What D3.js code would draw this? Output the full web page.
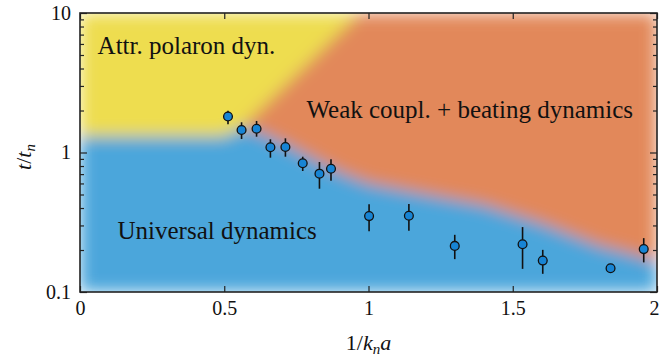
<!DOCTYPE html>
<html>
<head>
<meta charset="utf-8">
<script src="https://cdn.jsdelivr.net/npm/d3@7"></script>
<style>
  body { margin: 0; background: #fff; }
  svg { display: block; }
  svg text { font-family: "Liberation Serif", "DejaVu Serif", serif !important; fill: #111; }
</style>
</head>
<body>
<svg id="chart" width="660" height="358"></svg>
<script>
// measured points: 1/(k_n a) vs t/t_n with error bars
const invKa  = [0.513, 0.560, 0.612, 0.660, 0.712, 0.772, 0.830, 0.870, 1.002, 1.140, 1.299, 1.534, 1.604, 1.839, 1.954];
const tRatio = [1.81, 1.45, 1.48, 1.09, 1.095, 0.837, 0.705, 0.765, 0.350, 0.352, 0.214, 0.220, 0.168, 0.148, 0.203];
const errLo  = [1.595, 1.25, 1.298, 0.918, 0.933, 0.737, 0.550, 0.627, 0.273, 0.275, 0.172, 0.1465, 0.135, 0.148, 0.163];
const errHi  = [1.995, 1.647, 1.683, 1.244, 1.264, 0.933, 0.855, 0.894, 0.425, 0.427, 0.257, 0.292, 0.2005, 0.148, 0.2433];

// phase regions (data coords), drawn over a blue base and blurred
const yellowRegion = [[0, 1.3], [0.5, 1.3], [0.56, 1.5], [0.97, 10], [0, 10]];
const orangeRegion = [[0.56, 1.5], [0.62, 1.4], [0.7, 1.18], [0.8, 0.92], [0.9, 0.72], [1.0, 0.6],
                      [1.2, 0.5], [1.4, 0.42], [1.6, 0.31], [1.8, 0.215], [1.9, 0.19], [2.0, 0.165],
                      [2.0, 10], [0.97, 10]];

const xTicks = [0, 0.5, 1, 1.5, 2];
const xTickLabels = ["0", "0.5", "1", "1.5", "2"];
const yTicks = [0.1, 1, 10];
const yTickLabels = ["0.1", "1", "10"];
const yMinor = [0.2, 0.3, 0.4, 0.5, 0.6, 0.7, 0.8, 0.9, 2, 3, 4, 5, 6, 7, 8, 9];

const regionLabels = [
  {text: "Attr. polaron dyn.", x: 0.061, y: 5.1},
  {text: "Weak coupl. + beating dynamics", x: 0.785, y: 1.77},
  {text: "Universal dynamics", x: 0.13, y: 0.24}
];

const colors = {blue: "#4ca6db", yellow: "#eedd50", orange: "#e2885a", marker: "#1784d4"};

const svg = d3.select("#chart");
const mLeft = 80, mRight = 657, mTop = 13, mBottom = 292;

const x = d3.scaleLinear().domain([0, 2]).range([mLeft, mRight]);
const y = d3.scaleLog().domain([0.1, 10]).range([mBottom, mTop]);

const defs = svg.append("defs");
defs.append("clipPath").attr("id", "plotclip")
  .append("rect").attr("x", mLeft).attr("y", mTop).attr("width", mRight - mLeft).attr("height", mBottom - mTop);
defs.append("filter").attr("id", "soft")
  .attr("x", "-10%").attr("y", "-10%").attr("width", "120%").attr("height", "120%")
  .append("feGaussianBlur").attr("stdDeviation", 8);

const line = d3.line().x(d => x(d[0])).y(d => y(d[1]));

let bg = svg.append("g").attr("clip-path", "url(#plotclip)")
  .append("g").attr("filter", "url(#soft)");
bg.append("rect")
  .attr("x", mLeft).attr("y", mTop).attr("width", mRight - mLeft).attr("height", mBottom - mTop)
  .attr("fill", colors.blue);
bg.append("path").attr("d", line(yellowRegion) + "Z").attr("fill", colors.yellow);
bg.append("path").attr("d", line(orangeRegion) + "Z").attr("fill", colors.orange);

// axes, ticks pointing inwards on all four sides
const axisStyle = g => {
  g.attr("font-family", null);
  g.select(".domain").remove();
  g.selectAll(".tick line").attr("stroke", "#222").attr("stroke-width", 1.2);
  g.selectAll("text").attr("font-size", 20).attr("fill", "#111");
};

svg.append("g").attr("transform", `translate(0,${mBottom})`)
  .call(d3.axisBottom(x).tickValues(xTicks).tickSize(-6).tickPadding(9)
    .tickFormat((d, i) => xTickLabels[i]))
  .call(axisStyle)
  .selectAll(".tick:last-of-type text").attr("dx", -3);
svg.append("g").attr("transform", `translate(0,${mTop})`)
  .call(d3.axisTop(x).tickValues(xTicks).tickSize(-6).tickFormat(""))
  .call(axisStyle);
svg.append("g").attr("transform", `translate(${mLeft},0)`)
  .call(d3.axisLeft(y).tickValues(yTicks).tickSize(-7).tickPadding(9)
    .tickFormat((d, i) => yTickLabels[i]))
  .call(axisStyle);
svg.append("g").attr("transform", `translate(${mLeft},0)`)
  .call(d3.axisLeft(y).tickValues(yMinor).tickSize(-4).tickFormat(""))
  .call(axisStyle);
svg.append("g").attr("transform", `translate(${mRight},0)`)
  .call(d3.axisRight(y).tickValues(yTicks).tickSize(-7).tickFormat(""))
  .call(axisStyle);
svg.append("g").attr("transform", `translate(${mRight},0)`)
  .call(d3.axisRight(y).tickValues(yMinor).tickSize(-4).tickFormat(""))
  .call(axisStyle);

svg.append("rect")
  .attr("x", mLeft).attr("y", mTop).attr("width", mRight - mLeft).attr("height", mBottom - mTop)
  .attr("fill", "none").attr("stroke", "#222").attr("stroke-width", 1.6);

// region labels
svg.append("g").selectAll("text")
  .data(regionLabels)
  .enter().append("text")
  .attr("x", d => x(d.x))
  .attr("y", d => y(d.y))
  .attr("font-size", 25)
  .text(d => d.text);

// error bars + markers
const idx = d3.range(invKa.length);
svg.append("g").selectAll("line")
  .data(idx.filter(i => errHi[i] > errLo[i]))
  .enter().append("line")
  .attr("x1", i => x(invKa[i])).attr("x2", i => x(invKa[i]))
  .attr("y1", i => y(errLo[i])).attr("y2", i => y(errHi[i]))
  .attr("stroke", "#111").attr("stroke-width", 1.6);

svg.append("g").selectAll("circle")
  .data(idx)
  .enter().append("circle")
  .attr("cx", i => x(invKa[i]))
  .attr("cy", i => y(tRatio[i]))
  .attr("r", 4.4)
  .attr("fill", colors.marker)
  .attr("stroke", "#111").attr("stroke-width", 1.3);

// axis titles
let xt = svg.append("text").attr("x", x(1)).attr("y", 350).attr("text-anchor", "middle").attr("font-size", 22);
xt.append("tspan").text("1/");
xt.append("tspan").attr("font-style", "italic").text("k");
xt.append("tspan").attr("font-style", "italic").attr("font-size", 15).attr("dy", 4).text("n");
xt.append("tspan").attr("font-style", "italic").attr("dy", -4).text("a");

let yt = svg.append("text").attr("transform", `translate(31,157) rotate(-90)`)
  .attr("text-anchor", "middle").attr("font-size", 22);
yt.append("tspan").attr("font-style", "italic").text("t");
yt.append("tspan").text("/");
yt.append("tspan").attr("font-style", "italic").text("t");
yt.append("tspan").attr("font-style", "italic").attr("font-size", 15).attr("dy", 4).text("n");
</script>
</body>
</html>
